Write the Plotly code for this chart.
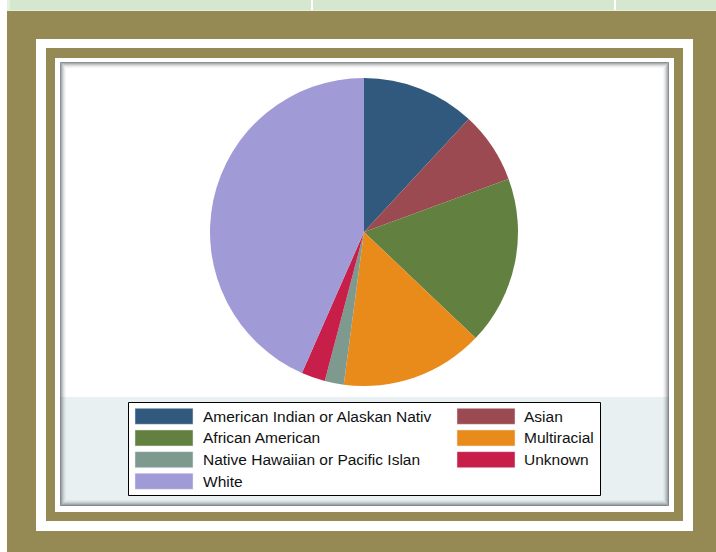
import plotly.graph_objects as go

W, H = 716, 552

# pie data (percent of students), in Stata draw order
labels = ['American Indian or Alaskan Nativ', 'Asian', 'African American', 'Multiracial',
          'Native Hawaiian or Pacific Islan', 'Unknown', 'White']
values = [11.9, 7.5, 17.7, 15.0, 2.0, 2.5, 43.4]
colors = ['#30597D', '#9A4A50', '#62803F', '#E88B1B', '#7E9A8F', '#C81F4A', '#A09BD6']

OLIVE = '#968A54'


def px_rect(x0, y0, x1, y1, **kw):
    # rectangle given in page pixels (y down)
    return dict(type='rect', xref='paper', yref='paper',
                x0=x0 / W, x1=x1 / W, y0=1 - y1 / H, y1=1 - y0 / H, **kw)


shapes = []
# page strip on top and white left edge
shapes.append(px_rect(0, 0, 7, H, fillcolor='white', line_width=0, layer='below'))
shapes.append(px_rect(7, 0, W, 11, fillcolor='#E4F1DE', line_width=0, layer='below'))
shapes.append(px_rect(10, 0, W, 10, fillcolor='#D5E8CF', line_width=0, layer='below'))
for dx in [311, 614]:
    shapes.append(px_rect(dx, 0, dx + 2, 10, fillcolor='white', line_width=0, layer='below'))

# frames
shapes.append(px_rect(36, 39, 693, 531, fillcolor='white', line_width=0, layer='below'))
shapes.append(px_rect(46, 48, 683, 521, fillcolor=OLIVE, line_width=0, layer='below'))
shapes.append(px_rect(55, 58, 674, 512, fillcolor='white', line_width=0, layer='below'))

# chart area: white plot region, light graph region under it
shapes.append(px_rect(60, 62, 669, 506, fillcolor='white', line_width=0, layer='below'))
shapes.append(px_rect(60, 397, 669, 506, fillcolor='#E8F0F2', line_width=0, layer='below'))

# inner shadow of the chart border
alphas = [0.62, 0.45, 0.32, 0.2, 0.11, 0.05]
for i, a in enumerate(alphas):
    shapes.append(px_rect(60.5 + i, 62.5 + i, 668.5 - i, 505.5 - i,
                          line=dict(color='rgba(70,76,82,%.2f)' % a, width=1), layer='below'))

# legend box
shapes.append(px_rect(128.5, 402.5, 600.5, 495.5, fillcolor='white',
                      line=dict(color='black', width=1), layer='below'))

annotations = []
col_x = [(135, 201), (457, 522)]
for i, (lab, col) in enumerate(zip(labels, colors)):
    row, c = divmod(i, 2)
    sx, tx = col_x[c]
    cy = 416.3 + row * 21.67
    shapes.append(px_rect(sx, cy - 8, sx + 58, cy + 8, fillcolor=col,
                          line=dict(color='#E8E8F0', width=0.5), layer='below'))
    annotations.append(dict(x=tx / W, y=1 - cy / H, xref='paper', yref='paper',
                            text=lab, showarrow=False, xanchor='left', yanchor='middle',
                            font=dict(family='Liberation Sans, Arial', size=15.5, color='#111111')))

fig = go.Figure(go.Pie(
    labels=labels, values=values, sort=False, direction='clockwise', rotation=0,
    marker=dict(colors=colors, line=dict(width=0)),
    textinfo='none', hoverinfo='label+percent', showlegend=False,
    domain=dict(x=[210 / W, 518 / W], y=[1 - 386 / H, 1 - 78 / H]),
))

fig.update_layout(
    width=W, height=H, margin=dict(l=0, r=0, t=0, b=0),
    paper_bgcolor=OLIVE, plot_bgcolor=OLIVE,
    shapes=shapes, annotations=annotations, showlegend=False,
)

fig.write_html("out.html", config={'displayModeBar': False},
               post_script="document.body.style.margin='0';")
